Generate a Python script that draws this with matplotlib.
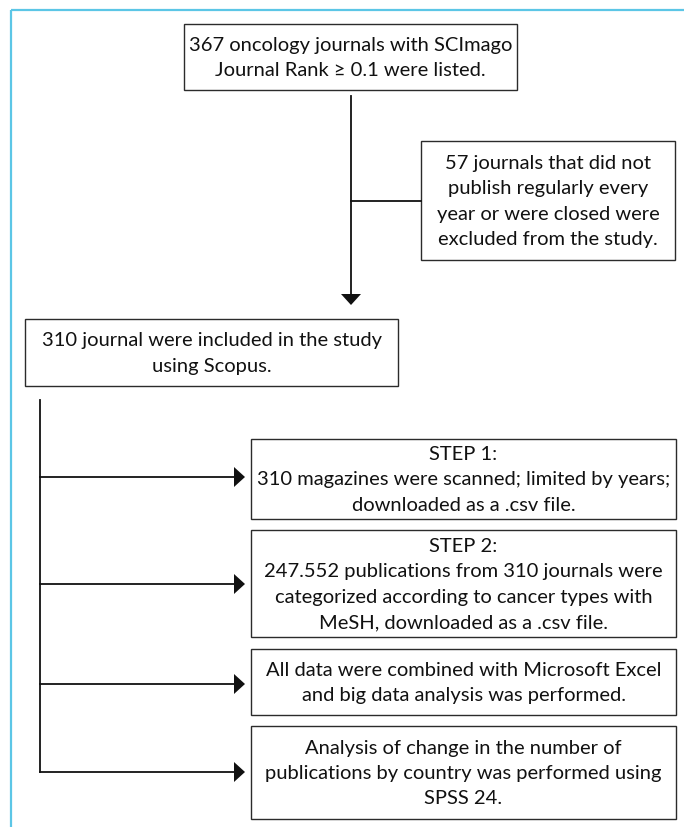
import matplotlib
matplotlib.use("Agg")
import matplotlib.pyplot as plt
from matplotlib.patches import Rectangle, Polygon

# ---- content ----
top_text = "367 oncology journals with SCImago\nJournal Rank \u2265 0.1 were listed."
excluded_text = ("57 journals that did not\npublish regularly every\n"
                 "year or were closed were\nexcluded from the study.")
included_text = "310 journal were included in the study\nusing Scopus."
step_texts = [
    "STEP 1:\n310 magazines were scanned; limited by years;\ndownloaded as a .csv file.",
    "STEP 2:\n247.552 publications from 310 journals were\ncategorized according to cancer types with\nMeSH, downloaded as a .csv file.",
    "All data were combined with Microsoft Excel\nand big data analysis was performed.",
    "Analysis of change in the number of\npublications by country was performed using\nSPSS 24.",
]

# ---- layout (pixel units) ----
W, H = 684, 828
top_box = (184, 25, 517, 91)
excl_box = (421, 142, 675, 261)
incl_box = (25, 320, 398, 387)
step_x = (251, 676)
step_y = [(440, 520), (531, 638), (650, 716), (727, 820)]
step_arrow_y = [478, 585, 685, 773]
main_x = 351
branch_y = 202
trunk_x = 40

FONT = "Lato"
FS = 14.5
LS = 1.6
BOX_EC = "#2b2b2b"
LINE_C = "#111111"

fig = plt.figure(figsize=(W / 100, H / 100), dpi=100)
ax = fig.add_axes([0, 0, 1, 1])
ax.set_xlim(0, W)
ax.set_ylim(H, 0)
ax.axis("off")

# blue frame (top & left)
ax.plot([11, W], [11, 11], color="#5cc6e6", lw=1.6, solid_capstyle="butt")
ax.plot([11, 11], [11, H], color="#5cc6e6", lw=1.6, solid_capstyle="butt")


def box(b, text):
    x0, y0, x1, y1 = b
    ax.add_patch(Rectangle((x0, y0), x1 - x0, y1 - y0, fill=False,
                           ec=BOX_EC, lw=1.0))
    ax.text((x0 + x1) / 2, (y0 + y1) / 2, text, ha="center", va="center",
            fontsize=FS, family=FONT, linespacing=LS, color="#111111")


def arrow_down(x, y_tip):
    ax.add_patch(Polygon([(x - 10, y_tip - 11), (x + 10, y_tip - 11), (x, y_tip)],
                         closed=True, color=LINE_C, lw=0))


def arrow_right(x_tip, y):
    ax.add_patch(Polygon([(x_tip - 11, y - 10), (x_tip - 11, y + 10), (x_tip, y)],
                         closed=True, color=LINE_C, lw=0))


box(top_box, top_text)
box(excl_box, excluded_text)
box(incl_box, included_text)
for (y0, y1), t in zip(step_y, step_texts):
    box((step_x[0], y0, step_x[1], y1), t)

# main vertical arrow
ax.plot([main_x, main_x], [top_box[3] + 6, 296], color=LINE_C, lw=1.3)
arrow_down(main_x, 306)
ax.plot([main_x, excl_box[0]], [branch_y, branch_y], color=LINE_C, lw=1.3)

# trunk and step arrows
ax.plot([trunk_x, trunk_x], [incl_box[3] + 14, step_arrow_y[-1]], color=LINE_C, lw=1.3)
for y in step_arrow_y:
    ax.plot([trunk_x, step_x[0] - 17], [y, y], color=LINE_C, lw=1.3)
    arrow_right(step_x[0] - 6, y)

fig.savefig("out.png", dpi=100)
